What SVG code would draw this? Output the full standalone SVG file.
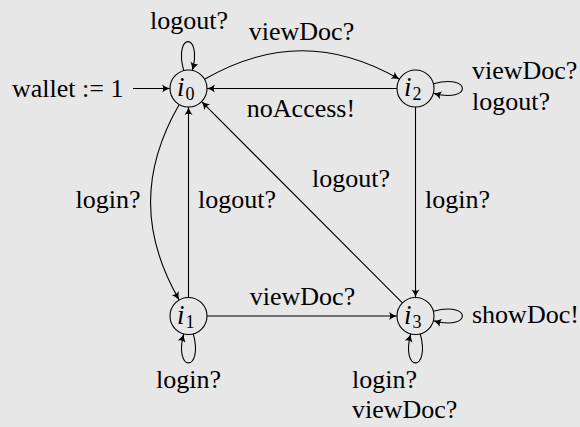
<svg xmlns="http://www.w3.org/2000/svg" width="580" height="427" viewBox="0 0 580 427">
  <defs>
    <style>
      .bg { fill: #e7e7e7; }
      .node { fill: none; stroke: #000; stroke-width: 1.1; }
      .edge { fill: none; stroke: #000; stroke-width: 1.1; marker-end: url(#arr); }
      .line { fill: none; stroke: #000; stroke-width: 1.1; }
      .lbl { font-family: "Liberation Serif", "Times New Roman", serif; font-size: 26px; fill: #000; }
      .nl { font-family: "Liberation Serif", "Times New Roman", serif; font-size: 27px; fill: #000; font-style: italic; }
      .sub { font-size: 18px; font-style: normal; }
    </style>
    <marker id="arr" markerUnits="userSpaceOnUse" orient="auto" markerWidth="12" markerHeight="12" viewBox="-10 -6 12 12" refX="0" refY="0" overflow="visible">
      <path d="M-8,-4 Q-4,-1 0,0 Q-4,1 -8,4 Q-5.5,0 -8,-4 Z" fill="#000"/>
    </marker>
  </defs>
  <rect class="bg" x="0" y="0" width="580" height="427"/>

  <g id="connectors">
    <!-- initial -->
    <path class="edge" d="M133,88.5 L170,88.5"/>
    <!-- i0 -> i2 viewDoc? -->
    <path class="edge" d="M204.5,79.3 C270.3,41.3 333.7,41.3 399.5,79.3"/>
    <!-- i2 -> i0 noAccess! -->
    <path class="edge" d="M397,88.5 L207,88.5"/>
    <!-- i0 loop logout? -->
    <path class="edge" d="M183.7,70.6 C173.3,32 202.7,32 192.3,70.6"/>
    <!-- i2 loop -->
    <path class="edge" d="M433.4,83.7 C472,73.3 472,103.7 433.4,93.3"/>
    <!-- i0 -> i1 login? -->
    <path class="edge" d="M179.2,104.5 C141,170.8 141,233.7 179.2,300"/>
    <!-- i1 -> i0 logout? -->
    <path class="edge" d="M188.5,297.5 L188.5,107"/>
    <!-- i3 -> i0 logout? -->
    <path class="edge" d="M402.4,302.9 L201.6,101.6"/>
    <!-- i2 -> i3 login? -->
    <path class="edge" d="M415.5,107 L415.5,297.5"/>
    <!-- i1 -> i3 viewDoc? -->
    <path class="edge" d="M207,316 L397,316"/>
    <!-- i1 loop login? -->
    <path class="edge" d="M193.3,333.9 C203.7,372.5 173.3,372.5 183.7,333.9"/>
    <!-- i3 loop login? viewDoc? -->
    <path class="edge" d="M420.3,333.9 C430.7,372.5 400.3,372.5 410.7,333.9"/>
    <!-- i3 loop showDoc! -->
    <path class="edge" d="M433.4,311.2 C472,300.8 472,331.2 433.4,320.8"/>
  </g>

  <g id="labels">
    <text class="lbl" x="12" y="97">wallet := 1</text>
    <text class="lbl" x="189" y="29" text-anchor="middle">logout?</text>
    <text class="lbl" x="301.5" y="40" text-anchor="middle">viewDoc?</text>
    <text class="lbl" x="301" y="117" text-anchor="middle">noAccess!</text>
    <text class="lbl" x="472" y="79">viewDoc?</text>
    <text class="lbl" x="472" y="110">logout?</text>
    <text class="lbl" x="108" y="208" text-anchor="middle">login?</text>
    <text class="lbl" x="198" y="208">logout?</text>
    <text class="lbl" x="351" y="187" text-anchor="middle">logout?</text>
    <text class="lbl" x="425" y="208">login?</text>
    <text class="lbl" x="302.5" y="305" text-anchor="middle">viewDoc?</text>
    <text class="lbl" x="472" y="323">showDoc!</text>
    <text class="lbl" x="188.5" y="388" text-anchor="middle">login?</text>
    <text class="lbl" x="352" y="388">login?</text>
    <text class="lbl" x="352" y="418">viewDoc?</text>
  </g>

  <g id="i0">
    <circle class="node" cx="188.5" cy="88.5" r="18.5"/>
    <text class="nl" x="177" y="96">i<tspan class="sub" dx="1" dy="4">0</tspan></text>
  </g>
  <g id="i1">
    <circle class="node" cx="188.5" cy="316" r="18.5"/>
    <text class="nl" x="177" y="323.5">i<tspan class="sub" dx="1" dy="4">1</tspan></text>
  </g>
  <g id="i2">
    <circle class="node" cx="415.5" cy="88.5" r="18.5"/>
    <text class="nl" x="404" y="96">i<tspan class="sub" dx="1" dy="4">2</tspan></text>
  </g>
  <g id="i3">
    <circle class="node" cx="415.5" cy="316" r="18.5"/>
    <text class="nl" x="404" y="323.5">i<tspan class="sub" dx="1" dy="4">3</tspan></text>
  </g>
</svg>
